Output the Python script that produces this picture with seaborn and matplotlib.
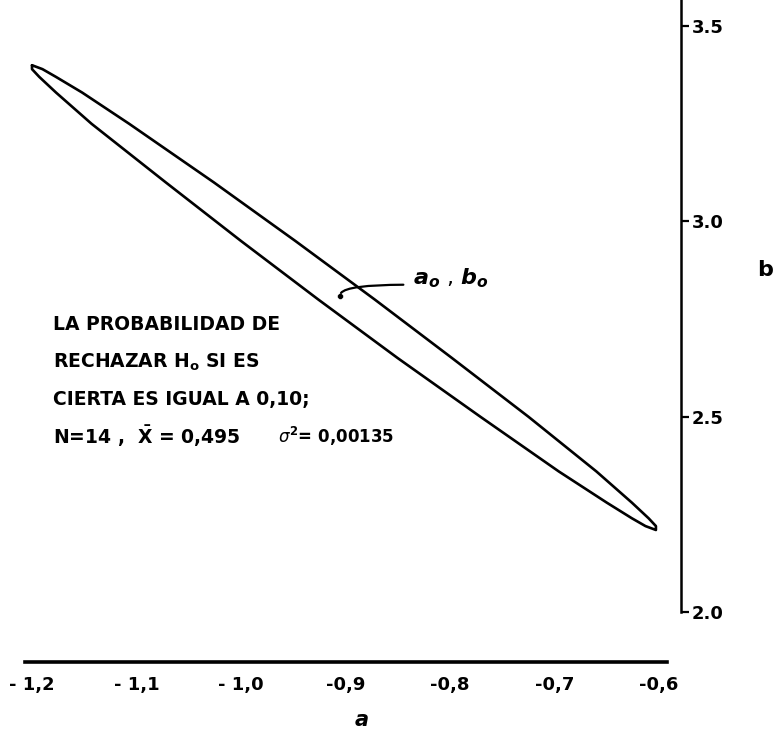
import numpy as np
import pandas as pd
import matplotlib
matplotlib.use("Agg")
import matplotlib.pyplot as plt
import seaborn as sns

sns.set_style("white")
plt.rcParams["font.family"] = ["DejaVu Sans"]
plt.rcParams["text.color"] = "black"
plt.rcParams["xtick.color"] = "black"
plt.rcParams["ytick.color"] = "black"
plt.rcParams["mathtext.fontset"] = "custom"
plt.rcParams["mathtext.rm"] = "DejaVu Sans:bold"
plt.rcParams["mathtext.bf"] = "DejaVu Sans:bold:italic"
plt.rcParams["mathtext.it"] = "DejaVu Sans:italic"

# region outline (a along x, b along y)
tip_left = (-1.200, 3.40)
tip_right = (-0.603, 2.21)
edge_b = [3.39, 3.37, 3.33, 3.25, 3.10, 2.95, 2.80, 2.65, 2.50, 2.36, 2.28, 2.24, 2.22]
upper_a = [-1.190, -1.177, -1.152, -1.107, -1.026, -0.948, -0.872, -0.798, -0.725, -0.660, -0.626, -0.610, -0.603]
lower_a = [-1.200, -1.193, -1.177, -1.143, -1.072, -1.000, -0.926, -0.850, -0.771, -0.696, -0.650, -0.626, -0.613]

# estimate point
a0b0 = (-0.905, 2.81)

x_ticks = [-1.2, -1.1, -1.0, -0.9, -0.8, -0.7, -0.6]
x_labels = ["- 1,2", "- 1,1", "- 1,0", "-0,9", "-0,8", "-0,7", "-0,6"]
y_ticks = [2.0, 2.5, 3.0, 3.5]
y_labels = ["2.0", "2.5", "3.0", "3.5"]

note_lines = [
    "LA PROBABILIDAD DE",
    r"RECHAZAR H$_{\mathrm{o}}$ SI ES",
    "CIERTA ES IGUAL A 0,10;",
    r"N=14 ,  $\bar{\mathrm{X}}$ = 0,495",
]
note_sigma = r"$\sigma^{\mathrm{2}}$= 0,00135"

# closed outline: left tip -> upper edge -> right tip -> lower edge back
out_a = [tip_left[0]] + upper_a + [tip_right[0]] + lower_a[::-1] + [tip_left[0]]
out_b = [tip_left[1]] + edge_b + [tip_right[1]] + edge_b[::-1] + [tip_left[1]]
df = pd.DataFrame({"a": out_a, "b": out_b})

W, H = 779, 736
fig = plt.figure(figsize=(W / 100, H / 100), dpi=100)
ax = fig.add_axes([11.1 / W, (H - 662) / H, 669.9 / W, 662 / H])

sns.lineplot(data=df, x="a", y="b", sort=False, estimator=None, color="black",
             lw=1.9, ax=ax)
sns.scatterplot(x=[a0b0[0]], y=[a0b0[1]], color="black", s=18, ax=ax, zorder=3)

ax.set_xlim(-1.22, -0.579)
ax.set_ylim(1.872, 3.567)

# a0, b0 label with the wiggly leader
ax.annotate("", xy=a0b0, xytext=(-0.842, 2.838),
            arrowprops=dict(arrowstyle="-", lw=1.6, color="black",
                            connectionstyle="angle3,angleA=0,angleB=100"))
ax.text(-0.835, 2.855, r"$\mathbf{a_o}$ , $\mathbf{b_o}$", fontsize=16,
        va="center", ha="left")

for s in ["left", "top"]:
    ax.spines[s].set_visible(False)
ax.spines["bottom"].set_bounds(-1.207, -0.592)
ax.spines["bottom"].set_linewidth(2.6)
ax.spines["right"].set_bounds(2.0, 3.567)
ax.spines["right"].set_linewidth(1.8)
for s in ["bottom", "right"]:
    ax.spines[s].set_color("black")

ax.set_xticks(x_ticks)
ax.set_xticklabels(x_labels, fontsize=13, fontweight="bold")
ax.yaxis.tick_right()
ax.set_yticks(y_ticks)
ax.set_yticklabels(y_labels, fontsize=13, fontweight="bold")
ax.tick_params(axis="x", direction="out", length=5, width=1.6, pad=5)
ax.tick_params(axis="y", direction="out", length=6, width=1.6, pad=2)
ax.set_xlabel("")
ax.set_ylabel("")

# axis names
fig.text(362 / W, 1 - 720 / H, "a", fontsize=15, fontweight="bold", fontstyle="italic",
         ha="center", va="center")
fig.text(765 / W, 1 - 270 / H, "b", fontsize=16, fontweight="bold",
         ha="center", va="center")

# note block
for k, line in enumerate(note_lines):
    fig.text(53 / W, 1 - (325 + 37 * k) / H, line, fontsize=13.5, fontweight="bold",
             ha="left", va="center")
fig.text(278 / W, 1 - 436 / H, note_sigma, fontsize=12, fontweight="bold",
         ha="left", va="center")

fig.savefig("out.png", dpi=100)
